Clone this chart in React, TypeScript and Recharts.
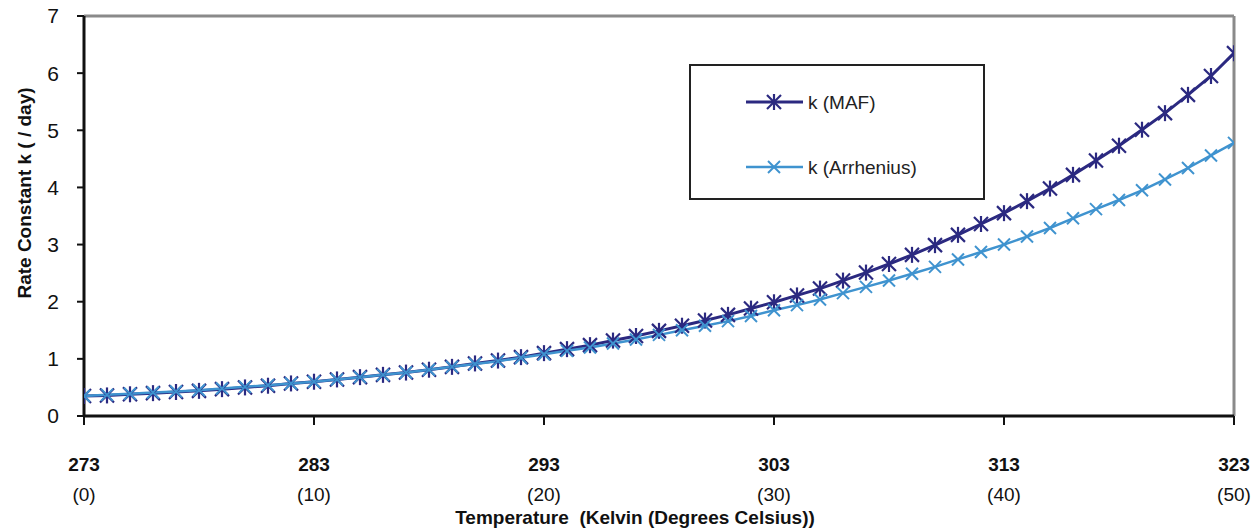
import React from "react";
import { LineChart, Line, XAxis, YAxis, ReferenceLine } from "recharts";

const kelvin = [273,274,275,276,277,278,279,280,281,282,283,284,285,286,287,288,289,290,291,292,293,294,295,296,297,298,299,300,301,302,303,304,305,306,307,308,309,310,311,312,313,314,315,316,317,318,319,320,321,322,323];
const kMAF = [0.35,0.36,0.38,0.40,0.42,0.44,0.47,0.50,0.53,0.57,0.60,0.64,0.68,0.72,0.76,0.81,0.86,0.92,0.97,1.03,1.10,1.17,1.24,1.32,1.40,1.49,1.58,1.67,1.77,1.88,1.99,2.11,2.23,2.37,2.51,2.66,2.82,2.99,3.17,3.36,3.55,3.76,3.98,4.22,4.47,4.73,5.01,5.30,5.62,5.95,6.35];
const kArrhenius = [0.35,0.37,0.39,0.41,0.43,0.45,0.48,0.51,0.54,0.57,0.60,0.64,0.68,0.72,0.76,0.81,0.86,0.91,0.96,1.02,1.08,1.14,1.20,1.27,1.34,1.42,1.50,1.58,1.66,1.75,1.85,1.94,2.04,2.15,2.26,2.37,2.49,2.61,2.74,2.87,3.00,3.14,3.29,3.46,3.62,3.78,3.95,4.14,4.34,4.56,4.78];
const xTicks = [273,283,293,303,313,323];
const xTickCelsius = ["(0)","(10)","(20)","(30)","(40)","(50)"];
const yTicks = [0,1,2,3,4,5,6,7];
const seriesNames = ["k (MAF)", "k (Arrhenius)"];

const data = kelvin.map((t, i) => ({ t, maf: kMAF[i], arr: kArrhenius[i] }));

const NAVY = "#2b2980";
const LIGHT = "#3f93cf";
const FONT = "'Liberation Sans', Arial, sans-serif";

const Asterisk = ({ cx, cy, color, s = 7 }: any) => (
  <g stroke={color} strokeWidth={2.2}>
    <line x1={cx - s} y1={cy - s} x2={cx + s} y2={cy + s} />
    <line x1={cx - s} y1={cy + s} x2={cx + s} y2={cy - s} />
    <line x1={cx} y1={cy - s - 1} x2={cx} y2={cy + s + 1} />
  </g>
);
const Cross = ({ cx, cy, color, s = 6 }: any) => (
  <g stroke={color} strokeWidth={2}>
    <line x1={cx - s} y1={cy - s} x2={cx + s} y2={cy + s} />
    <line x1={cx - s} y1={cy + s} x2={cx + s} y2={cy - s} />
  </g>
);

const XTick = ({ x, y, payload, index }: any) => {
  const i = xTicks.indexOf(payload.value);
  return (
    <g>
      <text x={x} y={y + 44} textAnchor="middle" fontFamily={FONT} fontSize={19} fontWeight="bold" fill="#111">{payload.value}</text>
      <text x={x} y={y + 74} textAnchor="middle" fontFamily={FONT} fontSize={19} fill="#111">{xTickCelsius[i >= 0 ? i : index]}</text>
    </g>
  );
};

const LegendBox = () => (
  <div style={{ position: "absolute", left: 689, top: 64, width: 292, height: 132, border: "2px solid #222", background: "#fff", fontFamily: FONT }}>
    <svg width={292} height={132} style={{ position: "absolute", left: 0, top: 0 }}>
      <line x1={55} y1={36} x2={112} y2={36} stroke={NAVY} strokeWidth={3} />
      <Asterisk cx={83} cy={36} color={NAVY} />
      <text x={117} y={43} fontFamily={FONT} fontSize={19} fill="#222">{seriesNames[0]}</text>
      <line x1={55} y1={101} x2={112} y2={101} stroke={LIGHT} strokeWidth={2.5} />
      <Cross cx={83} cy={101} color={LIGHT} />
      <text x={117} y={108} fontFamily={FONT} fontSize={19} fill="#222">{seriesNames[1]}</text>
    </svg>
  </div>
);

export default function App() {
  return (
    <div style={{ position: "absolute", left: 0, top: 0, width: 1256, height: 530, background: "#fff" }}>
      <LineChart width={1256} height={530} data={data} margin={{ top: 16, right: 22, bottom: 0, left: 0 }}>
        <XAxis
          dataKey="t"
          type="number"
          domain={[273, 323]}
          ticks={xTicks}
          interval={0}
          tick={<XTick />}
          tickSize={9}
          tickLine={{ stroke: "#111", strokeWidth: 2 }}
          axisLine={{ stroke: "#111", strokeWidth: 3 }}
          height={114}
          allowDataOverflow
        />
        <YAxis
          type="number"
          domain={[0, 7]}
          ticks={yTicks}
          interval={0}
          width={84}
          tickSize={7}
          tickMargin={18}
          tick={{ fontFamily: FONT, fontSize: 21, fill: "#111" }}
          tickLine={{ stroke: "#111", strokeWidth: 2 }}
          axisLine={{ stroke: "#111", strokeWidth: 3 }}
        />
        <ReferenceLine y={7} stroke="#8a8a8a" strokeWidth={3} />
        <ReferenceLine x={323} stroke="#8a8a8a" strokeWidth={3} />
        <Line
          dataKey="maf"
          name={seriesNames[0]}
          stroke={NAVY}
          strokeWidth={3}
          isAnimationActive={false}
          dot={(p: any) => <Asterisk key={`m${p.index}`} cx={p.cx} cy={p.cy} color={NAVY} />}
        />
        <Line
          dataKey="arr"
          name={seriesNames[1]}
          stroke={LIGHT}
          strokeWidth={2.5}
          isAnimationActive={false}
          dot={(p: any) => <Cross key={`a${p.index}`} cx={p.cx} cy={p.cy} color={LIGHT} />}
        />
        <text x={26} y={193} transform="rotate(-90 26 193)" textAnchor="middle" dominantBaseline="middle" fontFamily={FONT} fontSize={19} fontWeight="bold" fill="#111">Rate Constant k ( / day)</text>
        <text x={635} y={524} textAnchor="middle" fontFamily={FONT} fontSize={19} fontWeight="bold" fill="#111" style={{ whiteSpace: "pre" }}>Temperature  (Kelvin (Degrees Celsius))</text>
      </LineChart>
      <LegendBox />
    </div>
  );
}
